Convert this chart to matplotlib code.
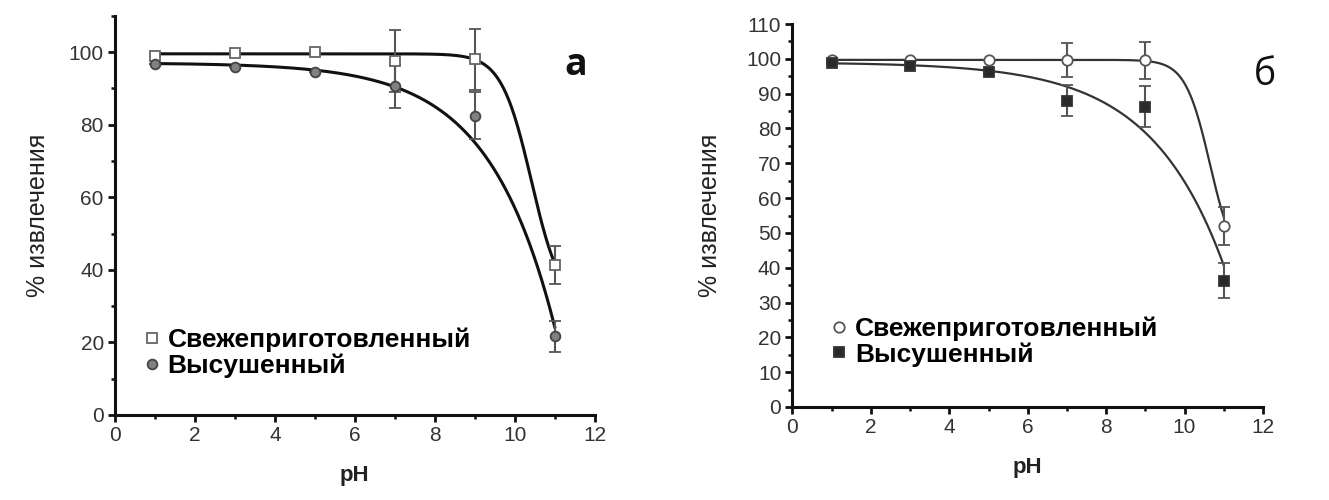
import numpy as np
import matplotlib
matplotlib.use("Agg")
import matplotlib.pyplot as plt
from matplotlib.ticker import MultipleLocator

plt.rcParams['font.family'] = ['Liberation Sans', 'DejaVu Sans']

ph = [1, 3, 5, 7, 9, 11]

# panel a
a_fresh = [98.8, 99.7, 100.0, 97.5, 98.0, 41.3]
a_fresh_err = [0, 0, 0, 8.5, 8.4, 5.3]
a_dried = [96.6, 96.0, 94.6, 90.5, 82.4, 21.7]
a_dried_err = [0, 0, 0, 6.0, 6.5, 4.3]

# panel b
b_fresh = [99.8, 99.8, 99.8, 99.7, 99.6, 52.0]
b_fresh_err = [0, 0, 0, 4.8, 5.3, 5.5]
b_dried = [98.8, 97.8, 96.3, 88.0, 86.3, 36.3]
b_dried_err = [0, 0, 0, 4.5, 6.0, 5.0]

# fitted curves: boltzmann (A1, A2, x0, dx) and exponential decay (A, B, k)
a_fresh_fit = (99.5, 29.5, 10.416, 0.376)
b_fresh_fit = (99.7, 39.7, 10.65, 0.315)
a_dried_fit = (97.0, 6.6, 0.60)
b_dried_fit = (99.0, 7.0, 0.53)

labels = ["Свежеприготовленный", "Высушенный"]


def boltzmann(x, a1, a2, x0, dx):
    return a2 + (a1 - a2) / (1 + np.exp((x - x0) / dx))


def expdecay(x, a, b, k):
    return a - b * np.exp(k * (x - 7))


xs = np.linspace(1, 11, 400)

fig = plt.figure(figsize=(13.29, 5), dpi=100)
ax1 = fig.add_axes([0.0865, 0.17, 0.361, 0.7986])
ax2 = fig.add_axes([0.5963, 0.186, 0.354, 0.766])


def style(ax, ymajor, yminor, ylab_x):
    ax.set_xlim(0, 12)
    ax.set_ylim(0, 110)
    for s in ["top", "right"]:
        ax.spines[s].set_visible(False)
    for s in ["left", "bottom"]:
        ax.spines[s].set_linewidth(2.2)
        ax.spines[s].set_color("#111111")
    ax.xaxis.set_major_locator(MultipleLocator(2))
    ax.xaxis.set_minor_locator(MultipleLocator(1))
    ax.yaxis.set_major_locator(MultipleLocator(ymajor))
    ax.yaxis.set_minor_locator(MultipleLocator(yminor))
    ax.tick_params(which="major", direction="out", length=5, width=2,
                   color="#111111", labelsize=15, labelcolor="#333333", pad=3)
    ax.tick_params(which="minor", direction="out", length=3, width=1.8,
                   color="#111111")
    ax.set_xlabel("pH", fontsize=16, fontweight="bold", color="#222222", labelpad=14)
    ax.set_ylabel("% извлечения", fontsize=18, color="#222222")
    ax.yaxis.set_label_coords(ylab_x, 0.5)


def add_legend(ax, x, y):
    h, l = ax.get_legend_handles_labels()
    h = [e[0] for e in h]
    ax.legend(h, l, loc="center left", bbox_to_anchor=(x, y), frameon=False,
              prop={"size": 19, "weight": "bold"}, handlelength=0.6, handletextpad=0.3,
              labelspacing=0.05, borderaxespad=0, borderpad=0)


eb = dict(ecolor="#555555", elinewidth=1.5, capsize=4, capthick=1.5, zorder=3)

# ---- panel a
style(ax1, 20, 10, -0.135)
ax1.plot(xs, boltzmann(xs, *a_fresh_fit), color="#111111", lw=2.2, zorder=2)
ax1.plot(xs, expdecay(xs, *a_dried_fit), color="#111111", lw=2.2, zorder=2)
ax1.errorbar(ph, a_fresh, yerr=a_fresh_err, fmt="s", ms=7, mfc="white", mec="#666666",
             mew=1.3, label=labels[0], **eb)
ax1.errorbar(ph, a_dried, yerr=a_dried_err, fmt="o", ms=7, mfc="#808080", mec="#444444",
             mew=1.3, label=labels[1], **eb)
add_legend(ax1, 0.06, 0.155)
ax1.text(0.96, 0.877, "а", transform=ax1.transAxes, fontsize=27, family="Open Sans",
         fontweight="bold", ha="center", va="center", color="#111111")

# ---- panel b
style(ax2, 10, 5, -0.15)
ax2.plot(xs, boltzmann(xs, *b_fresh_fit), color="#333333", lw=1.6, zorder=2)
ax2.plot(xs, expdecay(xs, *b_dried_fit), color="#333333", lw=1.6, zorder=2)
ax2.errorbar(ph, b_fresh, yerr=b_fresh_err, fmt="o", ms=7.5, mfc="white", mec="#555555",
             mew=1.3, label=labels[0], **eb)
ax2.errorbar(ph, b_dried, yerr=b_dried_err, fmt="s", ms=7, mfc="#2a2a2a", mec="#333333",
             mew=1.3, label=labels[1], **eb)
add_legend(ax2, 0.082, 0.171)
ax2.text(1.004, 0.867, "б", transform=ax2.transAxes, fontsize=27, family="Open Sans",
         ha="center", va="center", color="#111111")

fig.savefig("out.png", dpi=100)
